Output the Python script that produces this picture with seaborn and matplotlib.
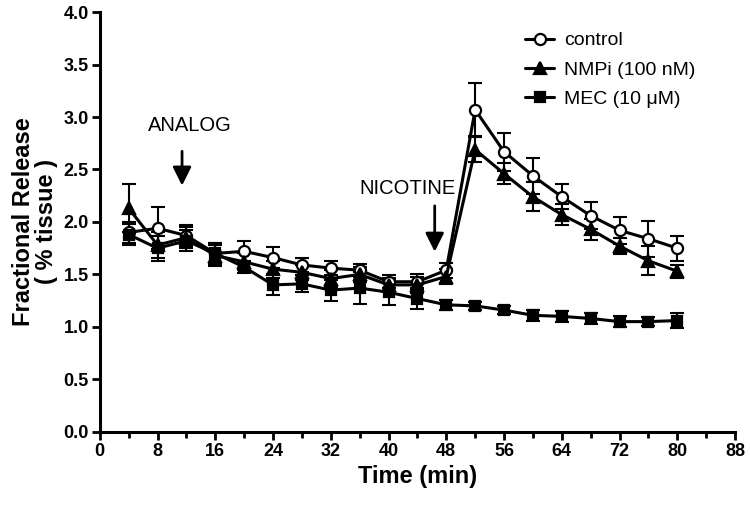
import numpy as np
import pandas as pd
import matplotlib
matplotlib.use("Agg")
import matplotlib.pyplot as plt
import seaborn as sns

# sampling times (min)
time = [4, 8, 12, 16, 20, 24, 28, 32, 36, 40, 44, 48, 52, 56, 60, 64, 68, 72, 76, 80]

control_mean = [1.90, 1.94, 1.87, 1.70, 1.72, 1.66, 1.59, 1.56, 1.54, 1.43, 1.43, 1.54,
                3.07, 2.67, 2.44, 2.24, 2.06, 1.92, 1.84, 1.75]
control_sem = [0.10, 0.20, 0.10, 0.10, 0.10, 0.10, 0.07, 0.07, 0.06, 0.06, 0.07, 0.07,
               0.25, 0.18, 0.17, 0.12, 0.13, 0.13, 0.17, 0.12]

nmpi_mean = [2.13, 1.78, 1.85, 1.68, 1.62, 1.55, 1.52, 1.46, 1.50, 1.40, 1.40, 1.48,
             2.69, 2.46, 2.24, 2.07, 1.93, 1.77, 1.63, 1.53]
nmpi_sem = [0.23, 0.12, 0.10, 0.10, 0.08, 0.08, 0.07, 0.08, 0.07, 0.07, 0.08, 0.07,
            0.12, 0.10, 0.14, 0.10, 0.10, 0.08, 0.14, 0.06]

mec_mean = [1.88, 1.75, 1.82, 1.70, 1.57, 1.40, 1.41, 1.35, 1.37, 1.33, 1.27, 1.21,
            1.20, 1.16, 1.11, 1.10, 1.08, 1.05, 1.05, 1.06]
mec_sem = [0.10, 0.12, 0.10, 0.10, 0.06, 0.10, 0.08, 0.10, 0.15, 0.12, 0.10, 0.05,
           0.04, 0.04, 0.05, 0.05, 0.05, 0.05, 0.04, 0.07]

series_names = ["control", "NMPi (100 nM)", "MEC (10 \u03bcM)"]

sns.set_style("ticks", rc={"text.color": "black", "axes.labelcolor": "black",
                           "xtick.color": "black", "ytick.color": "black",
                           "axes.edgecolor": "black"})
plt.rcParams['font.family'] = ['Liberation Sans', 'DejaVu Sans']

fig, ax = plt.subplots(figsize=(7.5, 5.05), dpi=100)
fig.subplots_adjust(left=0.133, right=0.98, bottom=0.145, top=0.976)

styles = [
    dict(marker="o", markerfacecolor="white", markersize=8),
    dict(marker="^", markerfacecolor="black", markersize=8),
    dict(marker="s", markerfacecolor="black", markersize=7),
]
means = [control_mean, nmpi_mean, mec_mean]
sems = [control_sem, nmpi_sem, mec_sem]

for name, m, s, st in zip(series_names, means, sems, styles):
    df = pd.DataFrame({"time": time, "value": m})
    ax.errorbar(time, m, yerr=s, fmt="none", ecolor="black", elinewidth=1.5,
                capsize=5, capthick=1.5, zorder=2)
    sns.lineplot(data=df, x="time", y="value", ax=ax, color="black", linewidth=2.2,
                 markeredgecolor="black", markeredgewidth=1.6, label=name, zorder=3, **st)

# stimulus arrows
ax.annotate("", xy=(11.4, 2.32), xytext=(11.4, 2.70),
            arrowprops=dict(arrowstyle="-|>", color="black", lw=2, mutation_scale=28))
ax.text(12.5, 2.83, "ANALOG", ha="center", va="bottom", fontsize=14.5)
ax.annotate("", xy=(46.4, 1.69), xytext=(46.4, 2.18),
            arrowprops=dict(arrowstyle="-|>", color="black", lw=2, mutation_scale=28))
ax.text(42.7, 2.23, "NICOTINE", ha="center", va="bottom", fontsize=14.5)

ax.set_xlim(0, 88)
ax.set_ylim(0, 4.0)
ax.set_xticks(np.arange(0, 89, 8))
ax.set_xticks(np.arange(4, 88, 8), minor=True)
ax.set_yticks(np.arange(0, 4.01, 0.5))
ax.set_yticklabels([f"{v:.1f}" for v in np.arange(0, 4.01, 0.5)])
ax.tick_params(axis="both", which="major", direction="out", length=6, width=2,
               labelsize=13, pad=2)
ax.tick_params(axis="x", which="minor", direction="out", length=4, width=2)
for lab in ax.get_xticklabels() + ax.get_yticklabels():
    lab.set_fontweight("bold")

sns.despine(ax=ax)
for sp in ["left", "bottom"]:
    ax.spines[sp].set_linewidth(2.2)

ax.set_xlabel("Time (min)", fontsize=17, fontweight="bold")
ax.set_ylabel("Fractional Release\n( % tissue )", fontsize=17, fontweight="bold",
              linespacing=1.0)

leg = ax.legend(loc="upper right", frameon=False, fontsize=14, handlelength=1.5,
                handletextpad=0.5, bbox_to_anchor=(0.965, 0.995), labelspacing=0.6)

fig.savefig("out.png", dpi=100)
